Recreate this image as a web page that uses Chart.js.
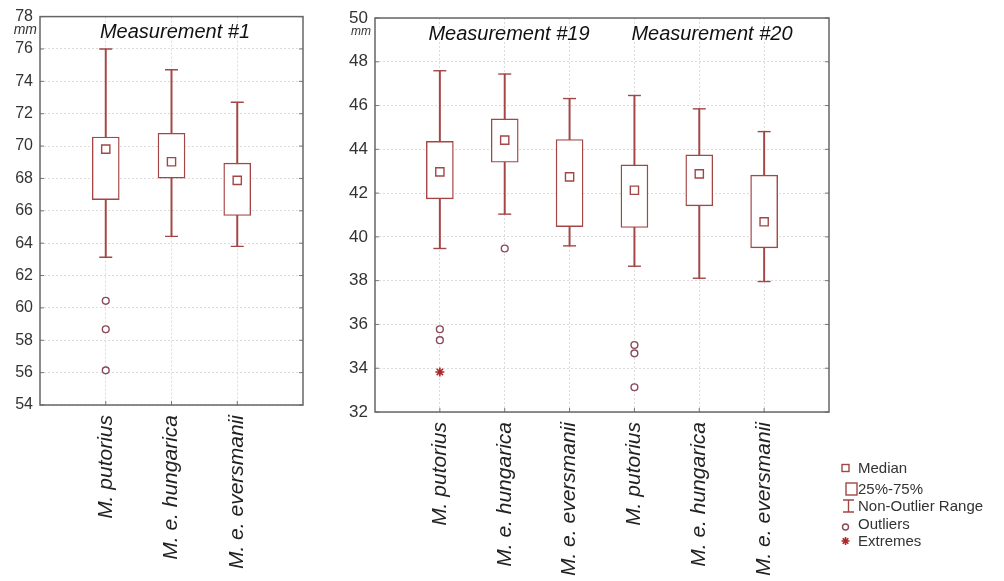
<!DOCTYPE html>
<html>
<head>
<meta charset="utf-8">
<script src="https://cdn.jsdelivr.net/npm/chart.js@4.4.0/dist/chart.umd.min.js"></script>
<style>
  body { margin: 0; background: #fff; font-family: "Liberation Sans", Arial, sans-serif; }
  #wrap { position: relative; width: 1004px; height: 581px; overflow: hidden; }
  canvas { position: absolute; top: 0; }
  #c1 { left: 0; }
  #c2 { left: 330px; }
  .leg { position: absolute; left: 858px; font-size: 15px; line-height: 18px; color: #333; white-space: nowrap; }
  #legicons { position: absolute; left: 836px; top: 455px; }
</style>
</head>
<body>
<div id="wrap">
  <canvas id="c1" width="320" height="581"></canvas>
  <canvas id="c2" width="520" height="581"></canvas>

  <svg id="legicons" width="24" height="95">
    <g fill="#fff" stroke="#a34646" stroke-width="1.4" transform="translate(-836,-455)">
      <rect x="842" y="464.5" width="7" height="7"/>
      <rect x="846" y="483" width="11" height="12"/>
      <path d="M848.5 500 V512 M843 500 H854 M843 512 H854" fill="none"/>
      <circle cx="845.5" cy="527" r="3" stroke="#8a4858"/>
      <path d="M841.5 541 H849.5 M845.5 537 V545 M842.7 538.2 L848.3 543.8 M848.3 538.2 L842.7 543.8" stroke="#b02525" stroke-width="1.6"/>
    </g>
  </svg>
  <div class="leg" style="top:459px">Median</div>
  <div class="leg" style="top:480px">25%-75%</div>
  <div class="leg" style="top:497px">Non-Outlier Range</div>
  <div class="leg" style="top:515px">Outliers</div>
  <div class="leg" style="top:532px">Extremes</div>
</div>

<script>
const categories = ['M. putorius', 'M. e. hungarica', 'M. e. eversmanii'];

// Measurement #1 (mm)
const m1Low = [63.13, 64.42, 63.8];
const m1Q1 = [66.69, 68.02, 65.71];
const m1Median = [69.81, 69.03, 67.88];
const m1Q3 = [70.56, 70.79, 68.95];
const m1High = [76.0, 74.72, 72.71];
const m1Outliers = [[60.44, 58.68, 56.14], [], []];
const m1Extremes = [[], [], []];

// Measurement #19 (mm)
const m19Low = [39.47, 41.04, 39.59];
const m19Q1 = [41.74, 43.41, 40.47];
const m19Median = [42.97, 44.42, 42.74];
const m19Q3 = [44.36, 45.39, 44.45];
const m19High = [47.59, 47.44, 46.32];
const m19Outliers = [[35.78, 35.28], [39.47], []];
const m19Extremes = [[33.83], [], []];

// Measurement #20 (mm)
const m20Low = [38.66, 38.11, 37.96];
const m20Q1 = [40.43, 41.42, 39.5];
const m20Median = [42.13, 42.88, 40.69];
const m20Q3 = [43.29, 43.75, 42.82];
const m20High = [46.46, 45.85, 44.81];
const m20Outliers = [[35.06, 34.68, 33.13], [], []];
const m20Extremes = [[], [], []];

const yTicksLeft = [54, 56, 58, 60, 62, 64, 66, 68, 70, 72, 74, 76, 78];
const yTicksRight = [32, 34, 36, 38, 40, 42, 44, 46, 48, 50];

const RED = '#a34646';
Chart.defaults.font.family = '"Liberation Sans", Arial, sans-serif';

// turn the arrays into floating bars and points, one group per measurement
function buildDatasets(groups) {
  const whisk = [], boxes = [], caps = [], meds = [], outs = [], ext = [];
  groups.forEach(g => {
    g.low.forEach((lo, i) => {
      const x = g.start + i;
      whisk.push({ x, y: [lo, g.high[i]] });
      boxes.push({ x, y: [g.q1[i], g.q3[i]] });
      caps.push({ x, y: lo }, { x, y: g.high[i] });
      meds.push({ x, y: g.median[i] });
      g.outliers[i].forEach(v => outs.push({ x, y: v }));
      g.extremes[i].forEach(v => ext.push({ x, y: v }));
    });
  });
  return [
    { type: 'bar', data: whisk, backgroundColor: RED, barThickness: 1.3, grouped: false, order: 5 },
    { type: 'bar', data: boxes, backgroundColor: '#fff', borderColor: RED, borderWidth: 1.4,
      borderSkipped: false, barThickness: 27, grouped: false, order: 4 },
    { type: 'scatter', data: caps, pointStyle: 'line', radius: 6.5, borderColor: RED, borderWidth: 1.4, order: 3 },
    { type: 'scatter', data: meds, pointStyle: 'rect', radius: 5.8, backgroundColor: '#fff',
      borderColor: RED, borderWidth: 1.4, order: 2 },
    { type: 'scatter', data: outs, pointStyle: 'circle', radius: 3.4, backgroundColor: '#fff',
      borderColor: '#8a4858', borderWidth: 1.4, order: 1 },
    { type: 'scatter', data: ext, pointStyle: 'star', radius: 4.5, borderColor: '#b02525', borderWidth: 1.6, order: 0 }
  ];
}

const decor = {
  id: 'decor',
  afterDraw(chart, args, opts) {
    const { ctx, chartArea: a } = chart;
    ctx.save();
    // inward tick marks
    ctx.strokeStyle = '#777';
    ctx.lineWidth = 1;
    chart.scales.y.ticks.forEach(t => {
      const y = chart.scales.y.getPixelForValue(t.value);
      ctx.beginPath();
      ctx.moveTo(a.left, y); ctx.lineTo(a.left + 4, y);
      ctx.moveTo(a.right, y); ctx.lineTo(a.right - 4, y);
      ctx.stroke();
    });
    chart.scales.x.ticks.forEach(t => {
      const x = chart.scales.x.getPixelForValue(t.value);
      ctx.beginPath();
      ctx.moveTo(x, a.bottom); ctx.lineTo(x, a.bottom - 4);
      ctx.stroke();
    });
    // frame
    ctx.strokeStyle = '#666';
    ctx.lineWidth = 1.5;
    ctx.strokeRect(a.left, a.top, a.right - a.left, a.bottom - a.top);
    // titles
    ctx.fillStyle = '#111';
    ctx.font = 'italic 20px "Liberation Sans", Arial, sans-serif';
    ctx.textAlign = 'center';
    ctx.textBaseline = 'middle';
    opts.titles.forEach(t => ctx.fillText(t.text, t.x, t.y));
    // unit
    ctx.fillStyle = '#333';
    ctx.font = `italic ${opts.unitSize}px "Liberation Sans", Arial, sans-serif`;
    ctx.textAlign = 'right';
    ctx.fillText('mm', a.left - opts.unitGap, opts.unitY);
    ctx.restore();
  }
};

function makeChart(id, groups, xMax, yTicks, lay) {
  const labels = [];
  groups.forEach(g => categories.forEach((c, i) => { labels[g.start + i] = c; }));
  return new Chart(document.getElementById(id), {
    type: 'bar',
    data: { datasets: buildDatasets(groups) },
    options: {
      responsive: false,
      animation: false,
      events: [],
      layout: { padding: { top: lay.top, right: lay.right, left: 0, bottom: 0 } },
      plugins: {
        legend: { display: false },
        tooltip: { enabled: false },
        decor: { titles: lay.titles, unitY: lay.unitY, unitSize: lay.unitSize, unitGap: lay.unitGap }
      },
      scales: {
        x: {
          type: 'linear',
          min: 0,
          max: xMax,
          offset: false,
          afterBuildTicks: s => { s.ticks = labels.map((c, i) => ({ value: i })).filter(t => labels[t.value]); },
          afterFit: s => { s.height = lay.xHeight; },
          grid: { color: '#dcdcdc', drawTicks: false, offset: false },
          border: { display: false, dash: [2, 2] },
          ticks: {
            autoSkip: false,
            minRotation: 90,
            maxRotation: 90,
            padding: lay.xPad,
            color: '#222',
            font: { size: 21, style: 'italic' },
            callback: v => labels[v] || ''
          }
        },
        y: {
          min: yTicks[0],
          max: yTicks[yTicks.length - 1],
          afterBuildTicks: s => { s.ticks = yTicks.map(v => ({ value: v })); },
          afterFit: s => { s.width = lay.yWidth; },
          grid: { color: '#dcdcdc', drawTicks: false },
          border: { display: false, dash: [2, 2] },
          ticks: { padding: 7, color: '#333', font: { size: lay.yFont } }
        }
      }
    },
    plugins: [decor]
  });
}

makeChart('c1', [
  { start: 1, low: m1Low, q1: m1Q1, median: m1Median, q3: m1Q3, high: m1High, outliers: m1Outliers, extremes: m1Extremes }
], 4, yTicksLeft, {
  top: 15, right: 17, yWidth: 40, xHeight: 176, xPad: 10, yFont: 16,
  titles: [{ text: 'Measurement #1', x: 175, y: 32 }],
  unitY: 30, unitSize: 14, unitGap: 3
});

makeChart('c2', [
  { start: 1, low: m19Low, q1: m19Q1, median: m19Median, q3: m19Q3, high: m19High, outliers: m19Outliers, extremes: m19Extremes },
  { start: 4, low: m20Low, q1: m20Q1, median: m20Median, q3: m20Q3, high: m20High, outliers: m20Outliers, extremes: m20Extremes }
], 7, yTicksRight, {
  top: 18, right: 21, yWidth: 45, xHeight: 169, xPad: 10, yFont: 17,
  titles: [{ text: 'Measurement #19', x: 179, y: 34 }, { text: 'Measurement #20', x: 382, y: 34 }],
  unitY: 32, unitSize: 12, unitGap: 4
});
</script>
</body>
</html>
